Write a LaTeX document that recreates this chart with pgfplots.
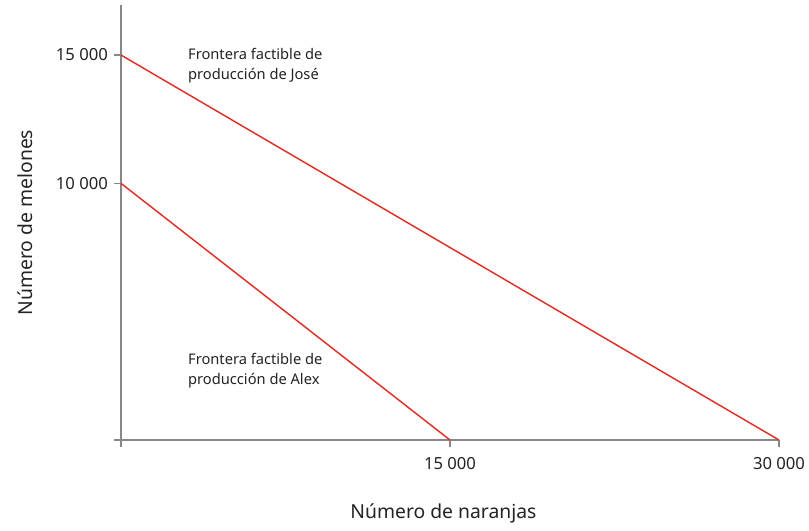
\documentclass[border=0pt]{standalone}
\usepackage{pgfplots}
\pgfplotsset{compat=1.18}
\usepackage{fontspec}
\setmainfont{Noto Sans}
\definecolor{frontred}{RGB}{224,48,38}
\definecolor{axisgray}{RGB}{135,135,135}
\definecolor{txt}{RGB}{35,35,35}
\begin{document}
\begin{tikzpicture}
% page frame: 809 x 531 px at 0.75pt per px, axis corner at px (121,440)
\path[use as bounding box] (-90.75pt,-68.25pt) rectangle (516pt,330pt);
\begin{axis}[
  at={(0pt,0pt)}, anchor=south west,
  scale only axis,
  width=493.5pt, height=326.25pt,
  xmin=0, xmax=30000, ymin=0, ymax=16950,
  axis lines=left,
  axis line style={-, axisgray, line width=1.1pt},
  clip=false,
  scaled ticks=false,
  xtick={0,15000,30000},
  xticklabels={,15 000,30 000},
  ytick={0,10000,15000},
  yticklabels={,10 000,15 000},
  tick align=outside,
  major tick length=5.25pt,
  tick style={axisgray, line width=1.1pt},
  ticklabel style={font=\fontsize{12.5}{14}\selectfont, text=txt},
  xticklabel style={yshift=-4pt},
  yticklabel style={xshift=-1pt},
  xlabel={Número de naranjas},
  ylabel={Número de melones},
  label style={font=\fontsize{14.5}{16}\selectfont, text=txt},
  x label style={at={(axis description cs:0.49,-0.168)}, anchor=center},
  y label style={at={(axis description cs:-0.146,0.5)}, anchor=center},
]
\addplot[frontred, line width=1.1pt] coordinates {(0,15000) (30000,0)};
\addplot[frontred, line width=1.1pt] coordinates {(0,10000) (15000,0)};
\node[anchor=west, align=left, text=txt, font=\fontsize{11}{15}\selectfont, inner sep=0pt]
  at (axis cs:3050,14600) {Frontera factible de\\producción de José};
\node[anchor=west, align=left, text=txt, font=\fontsize{11}{15}\selectfont, inner sep=0pt]
  at (axis cs:3050,2690) {Frontera factible de\\producción de Alex};
\end{axis}
\end{tikzpicture}
\end{document}
